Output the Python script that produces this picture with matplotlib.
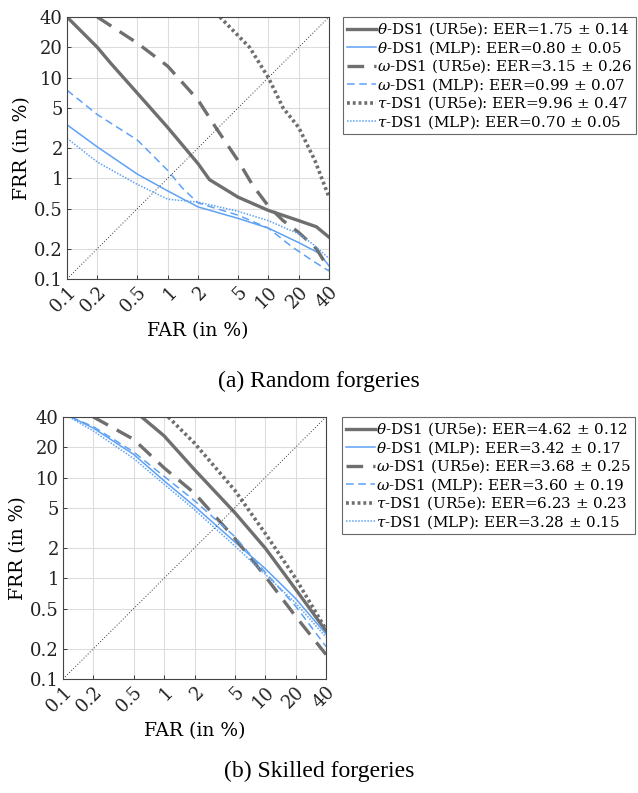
import numpy as np
import matplotlib
matplotlib.use("Agg")
import matplotlib.pyplot as plt

# ---------------- data ----------------
ticks = [0.1, 0.2, 0.5, 1, 2, 5, 10, 20, 40]
tick_labels = ["0.1", "0.2", "0.5", "1", "2", "5", "10", "20", "40"]

# (a) Random forgeries
a_theta_ur_x = [0.1, 0.2, 0.27, 0.5, 1, 2, 2.6, 5, 10, 20, 30, 40]
a_theta_ur_y = [40, 20, 14, 7, 3.2, 1.4, 0.97, 0.65, 0.48, 0.38, 0.33, 0.26]
a_theta_mlp_x = [0.1, 0.2, 0.5, 1, 2, 5, 10, 20, 32, 40]
a_theta_mlp_y = [3.4, 2.05, 1.1, 0.75, 0.52, 0.4, 0.32, 0.23, 0.18, 0.135]
a_omega_ur_x = [0.2, 0.5, 1, 2, 3, 5, 7, 10, 14, 20, 30, 40]
a_omega_ur_y = [40, 22, 13, 6, 3.2, 1.5, 0.85, 0.53, 0.38, 0.29, 0.2, 0.125]
a_omega_mlp_x = [0.1, 0.2, 0.5, 1, 1.4, 2, 5, 10, 17, 28, 40]
a_omega_mlp_y = [7.5, 4.3, 2.4, 1.2, 0.8, 0.57, 0.43, 0.32, 0.21, 0.15, 0.12]
a_tau_ur_x = [3.3, 6.5, 10, 14, 20, 29, 40]
a_tau_ur_y = [40, 20, 10, 5, 3.2, 1.5, 0.65]
a_tau_mlp_x = [0.1, 0.2, 0.5, 1, 2, 5, 10, 20, 28, 40]
a_tau_mlp_y = [2.5, 1.45, 0.87, 0.62, 0.58, 0.47, 0.38, 0.28, 0.22, 0.16]
a_labels = [
    r"$\theta$-DS1 (UR5e): EER=1.75 $\pm$ 0.14",
    r"$\theta$-DS1 (MLP): EER=0.80 $\pm$ 0.05",
    r"$\omega$-DS1 (UR5e): EER=3.15 $\pm$ 0.26",
    r"$\omega$-DS1 (MLP): EER=0.99 $\pm$ 0.07",
    r"$\tau$-DS1 (UR5e): EER=9.96 $\pm$ 0.47",
    r"$\tau$-DS1 (MLP): EER=0.70 $\pm$ 0.05",
]

# (b) Skilled forgeries
b_theta_ur_x = [0.6, 1, 2, 5, 10, 20, 40]
b_theta_ur_y = [40, 26, 12, 4.5, 2, 0.78, 0.3]
b_theta_mlp_x = [0.12, 0.2, 0.5, 1, 2, 5, 10, 20, 40]
b_theta_mlp_y = [40, 31, 17, 9.3, 5.2, 2.3, 1.25, 0.63, 0.28]
b_omega_ur_x = [0.2, 0.5, 1, 2, 5, 10, 20, 40]
b_omega_ur_y = [40, 24, 12.5, 7, 2.5, 1.05, 0.42, 0.175]
b_omega_mlp_x = [0.12, 0.2, 0.5, 1, 2, 5, 10, 20, 40]
b_omega_mlp_y = [40, 32, 18, 10.3, 5.9, 2.6, 1.15, 0.53, 0.21]
b_tau_ur_x = [1.1, 2, 5, 10, 20, 40]
b_tau_ur_y = [40, 22, 7.5, 2.8, 1.0, 0.31]
b_tau_mlp_x = [0.115, 0.2, 0.5, 1, 2, 5, 10, 20, 40]
b_tau_mlp_y = [40, 29, 15.5, 8.6, 4.8, 2.1, 1.1, 0.57, 0.26]
b_labels = [
    r"$\theta$-DS1 (UR5e): EER=4.62 $\pm$ 0.12",
    r"$\theta$-DS1 (MLP): EER=3.42 $\pm$ 0.17",
    r"$\omega$-DS1 (UR5e): EER=3.68 $\pm$ 0.25",
    r"$\omega$-DS1 (MLP): EER=3.60 $\pm$ 0.19",
    r"$\tau$-DS1 (UR5e): EER=6.23 $\pm$ 0.23",
    r"$\tau$-DS1 (MLP): EER=3.28 $\pm$ 0.15",
]

# ---------------- style ----------------
GRAY = "#6f6f6f"
BLUE = "#5ea2f5"
plt.rcParams["font.family"] = ["DejaVu Serif"]
plt.rcParams["mathtext.fontset"] = "dejavuserif"

W, H = 638, 793
fig = plt.figure(figsize=(W / 100, H / 100), dpi=100)


def make_panel(rect, series, labels, leg_xy, caption, cap_y):
    ax = fig.add_axes(rect)
    styles = [
        dict(color=GRAY, lw=2.4, ls="-"),
        dict(color=BLUE, lw=1.1, ls="-"),
        dict(color=GRAY, lw=2.4, ls=(0, (5, 3))),
        dict(color=BLUE, lw=1.1, ls=(0, (5, 3))),
        dict(color=GRAY, lw=2.6, ls=(0, (0.8, 0.8))),
        dict(color=BLUE, lw=1.1, ls=(0, (1, 1))),
    ]
    handles = []
    for (x, y), st, lab in zip(series, styles, labels):
        h, = ax.plot(x, y, label=lab, **st)
        handles.append(h)
    ax.plot([0.1, 40], [0.1, 40], color="#333333", lw=0.7, ls=(0, (1, 2)))
    ax.set_xscale("log")
    ax.set_yscale("log")
    ax.set_xlim(0.1, 40)
    ax.set_ylim(0.1, 40)
    ax.set_xticks(ticks)
    ax.set_yticks(ticks)
    ax.set_xticklabels(tick_labels, rotation=45, ha="right", rotation_mode="anchor")
    ax.set_yticklabels(tick_labels)
    ax.minorticks_off()
    ax.tick_params(labelsize=13, length=3, width=0.6, direction="in",
                   colors="#222222", pad=3)
    ax.grid(True, color="#dddddd", lw=0.8)
    for s in ax.spines.values():
        s.set_color("#444444")
        s.set_linewidth(0.8)
    ax.set_xlabel("FAR (in %)", fontsize=13.5, labelpad=4)
    ax.set_ylabel("FRR (in %)", fontsize=13.5, labelpad=2)
    leg = fig.legend(handles=handles, loc="upper left", bbox_to_anchor=leg_xy,
                     bbox_transform=fig.transFigure, fontsize=10.9, frameon=True,
                     fancybox=False, borderaxespad=0, handlelength=1.9,
                     handletextpad=0.1, labelspacing=0.05, borderpad=0.25)
    leg.get_frame().set_edgecolor("#444444")
    leg.get_frame().set_linewidth(0.8)
    fig.text(0.5, cap_y, caption, ha="center", va="center",
             fontsize=17, family=["Liberation Serif"])
    return ax


make_panel([67 / W, 1 - 279 / H, 262 / W, 262 / H],
           [(a_theta_ur_x, a_theta_ur_y), (a_theta_mlp_x, a_theta_mlp_y),
            (a_omega_ur_x, a_omega_ur_y), (a_omega_mlp_x, a_omega_mlp_y),
            (a_tau_ur_x, a_tau_ur_y), (a_tau_mlp_x, a_tau_mlp_y)],
           a_labels, (343 / W, 1 - 17 / H), "(a) Random forgeries", 1 - 381 / H)

make_panel([63 / W, 1 - 679 / H, 263 / W, 262 / H],
           [(b_theta_ur_x, b_theta_ur_y), (b_theta_mlp_x, b_theta_mlp_y),
            (b_omega_ur_x, b_omega_ur_y), (b_omega_mlp_x, b_omega_mlp_y),
            (b_tau_ur_x, b_tau_ur_y), (b_tau_mlp_x, b_tau_mlp_y)],
           b_labels, (342 / W, 1 - 417 / H), "(b) Skilled forgeries", 1 - 771 / H)

fig.savefig("out.png", dpi=100)
